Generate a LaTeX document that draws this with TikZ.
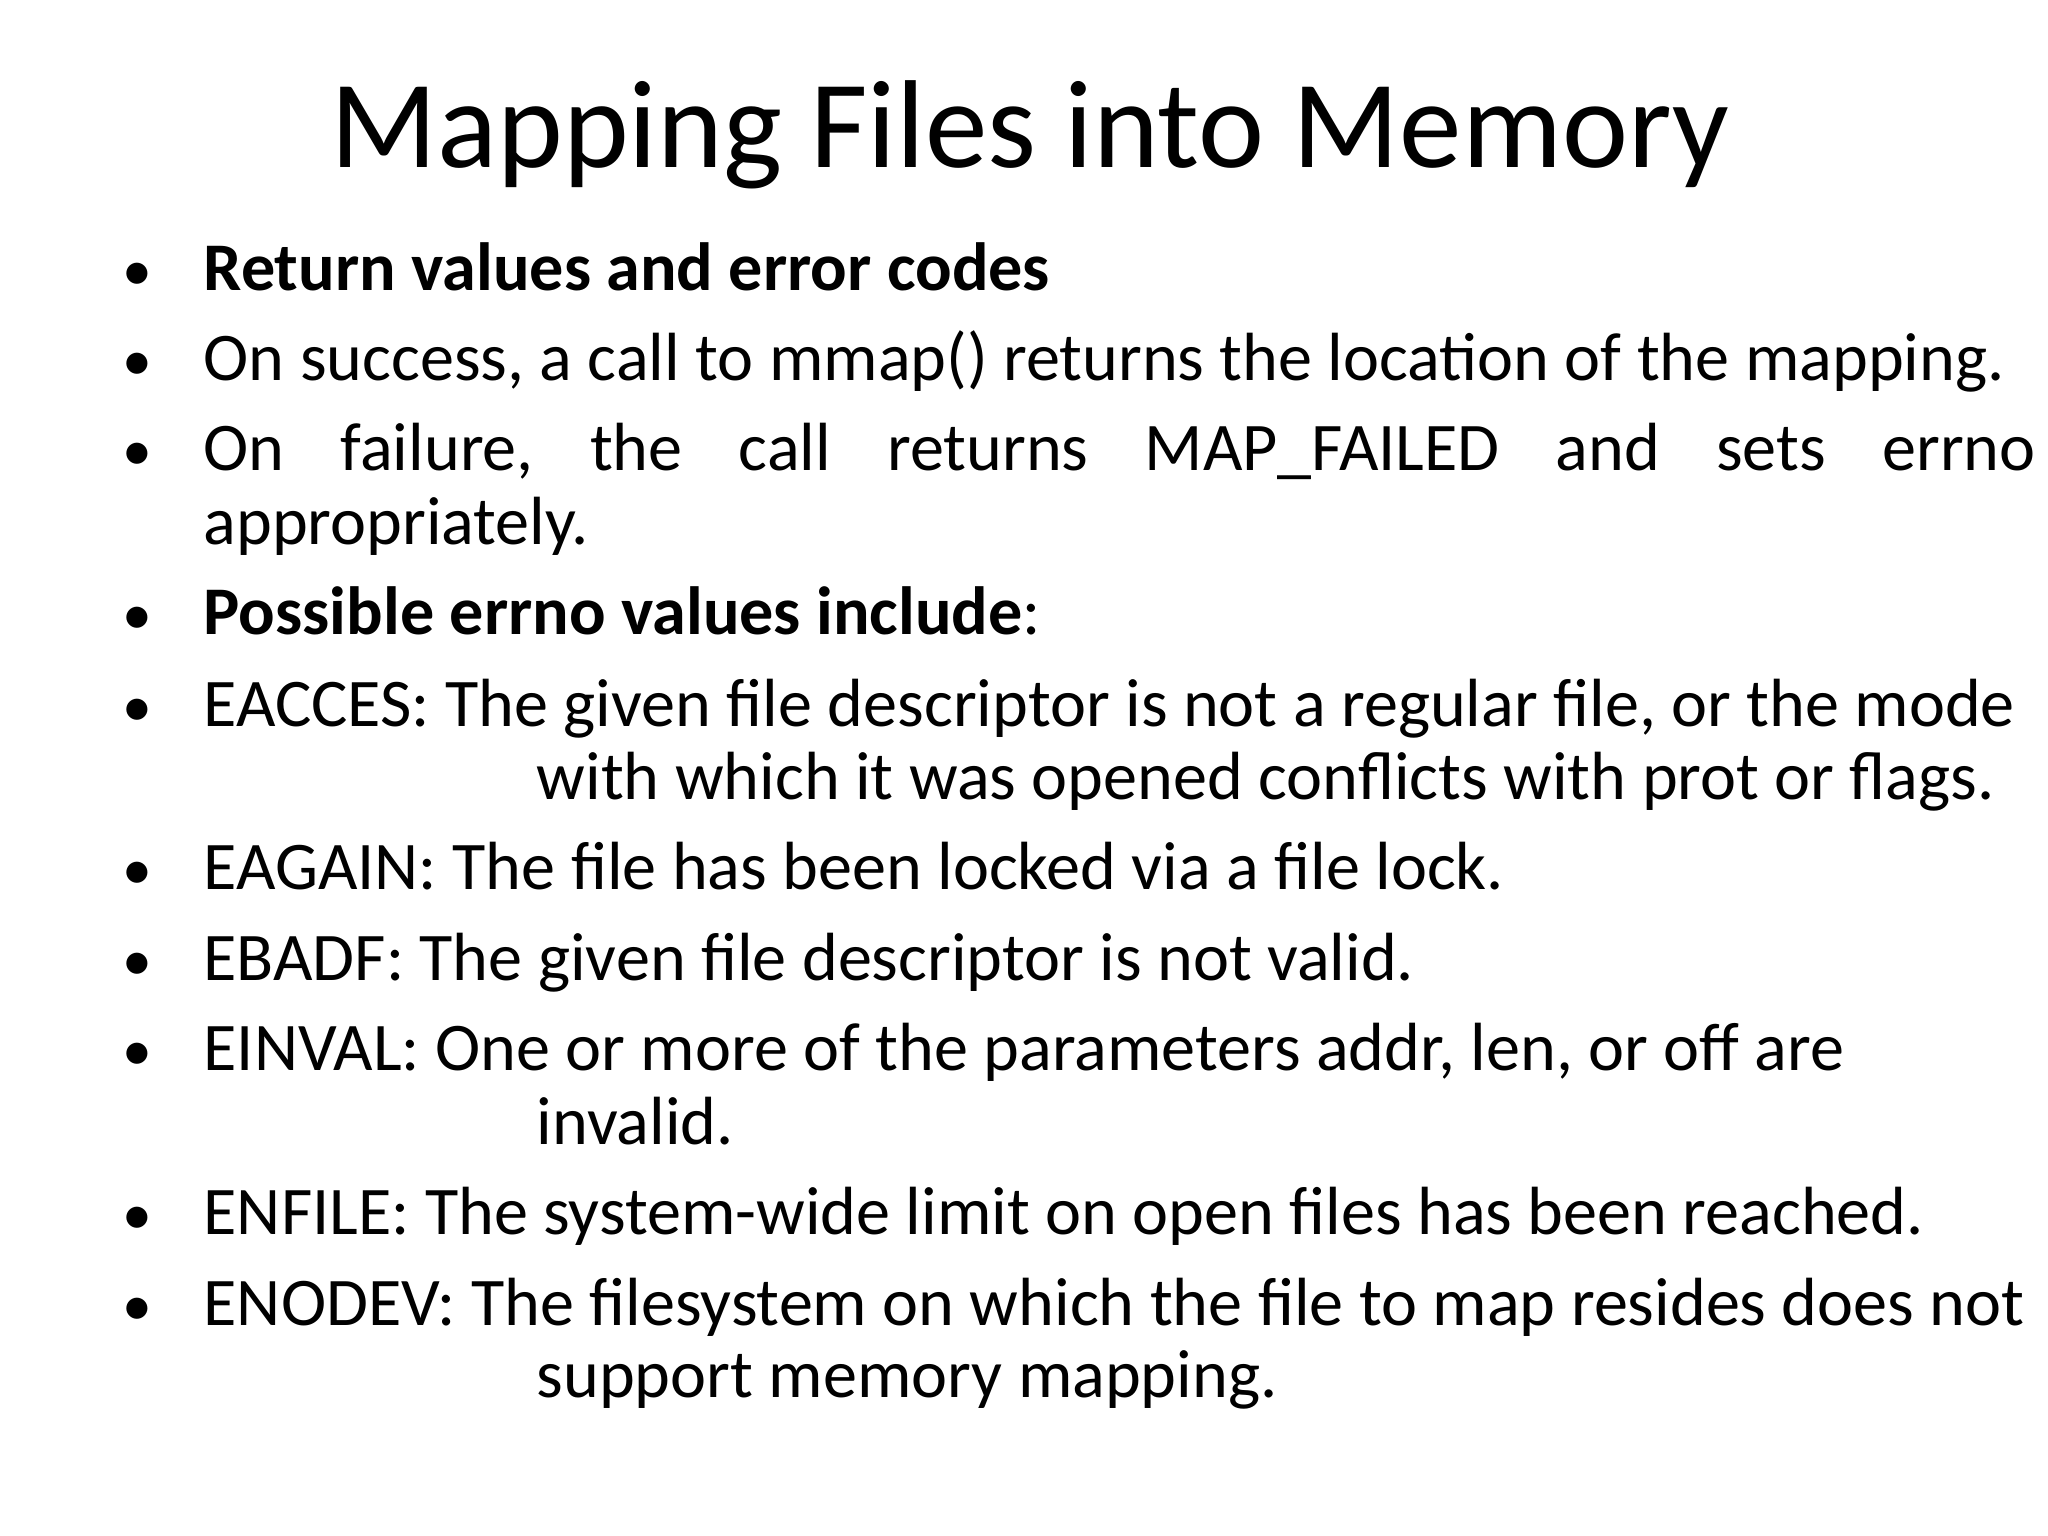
\documentclass[tikz,border=0pt]{standalone}
\usepackage{fontspec}
\setmainfont{Carlito}
\usetikzlibrary{positioning}
\newcommand{\bodysize}{\fontsize{19.4pt}{23pt}\selectfont}
\begin{document}
\begin{tikzpicture}
	[
		line/.style={anchor=base west, inner sep=0pt, font=\bodysize},
		dot/.style={anchor=base west, inner sep=0pt, font=\fontsize{17pt}{20pt}\selectfont},
	]
	\useasboundingbox (0,0) rectangle (20.48,15.36);
	\node (title) [anchor=base, inner sep=0pt, font=\fontsize{35.6pt}{42pt}\selectfont] at (10.3,13.68) {Mapping Files into Memory};
	% bullet lines
	\foreach \y/\name in {2.91/b1, 3.81/b2, 4.71/b3, 6.35/b4, 7.27/b5, 8.90/b6, 9.81/b7, 10.71/b8, 12.35/b9, 13.26/b10}
		\node (\name) [dot] at (1.22,15.36-\y) {\textbullet};
	\node (l1) [line] at (2.03,15.36-2.91) {\textbf{Return values and error codes}};
	\node (l2) [line] at (2.03,15.36-3.81) {On success, a call to mmap() returns the location of the mapping.};
	\node (l3) [line] at (2.03,15.36-4.71) {\hbox to 18.32cm{On\hfill failure,\hfill the\hfill call\hfill returns\hfill MAP\_FAILED\hfill and\hfill sets\hfill errno}};
	\node (l3b) [line] at (2.03,15.36-5.45) {appropriately.};
	\node (l4) [line] at (2.03,15.36-6.35) {\textbf{Possible errno values include}:};
	\node (l5) [line] at (2.03,15.36-7.27) {EACCES: The given file descriptor is not a regular file, or the mode};
	\node (l5b) [line] at (5.36,15.36-8.00) {with which it was opened conflicts with prot or flags.};
	\node (l6) [line] at (2.03,15.36-8.90) {EAGAIN: The file has been locked via a file lock.};
	\node (l7) [line] at (2.03,15.36-9.81) {EBADF: The given file descriptor is not valid.};
	\node (l8) [line] at (2.03,15.36-10.71) {EINVAL: One or more of the parameters addr, len, or off are};
	\node (l8b) [line] at (5.36,15.36-11.45) {invalid.};
	\node (l9) [line] at (2.03,15.36-12.35) {ENFILE: The system-wide limit on open files has been reached.};
	\node (l10) [line] at (2.03,15.36-13.26) {ENODEV: The filesystem on which the file to map resides does not};
	\node (l10b) [line] at (5.36,15.36-13.98) {support memory mapping.};
\end{tikzpicture}
\end{document}
